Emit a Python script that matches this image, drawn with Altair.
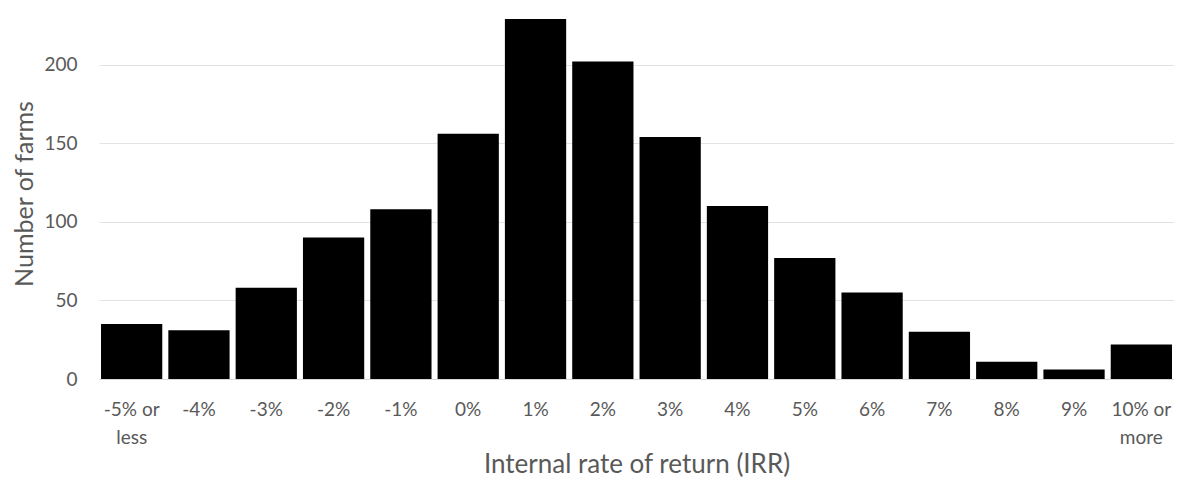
import altair as alt
import pandas as pd

categories = ["-5% or\nless", "-4%", "-3%", "-2%", "-1%", "0%", "1%", "2%", "3%",
              "4%", "5%", "6%", "7%", "8%", "9%", "10% or\nmore"]
farms = [35, 31, 58, 90, 108, 156, 229, 202, 154, 110, 77, 55, 30, 11, 6, 22]

df = pd.DataFrame({"irr": categories, "farms": farms})

FONT = "Lato"
GREY = "#595959"

chart = alt.Chart(df).mark_bar(color="black").encode(
    x=alt.X("irr:N", sort=categories,
            scale=alt.Scale(paddingInner=0.09, paddingOuter=0.03),
            axis=alt.Axis(title="Internal rate of return (IRR)", labelAngle=0,
                          labelExpr="split(datum.label, '\\n')",
                          labelLineHeight=28, labelFontSize=19, labelColor=GREY,
                          labelFont=FONT, labelPadding=21, ticks=False,
                          domainColor="#d9d9d9", domainWidth=1,
                          titleFont=FONT, titleFontSize=26, titleFontWeight="normal",
                          titleColor=GREY, titlePadding=4)),
    y=alt.Y("farms:Q", scale=alt.Scale(domain=[0, 236], nice=False),
            axis=alt.Axis(title="Number of farms", values=[0, 50, 100, 150, 200],
                          labelFontSize=19, labelColor=GREY, labelFont=FONT,
                          labelPadding=22, ticks=False, domain=False,
                          gridColor="#e3e3e3", gridWidth=1,
                          titleFont=FONT, titleFontSize=25, titleFontWeight="normal",
                          titleColor=GREY, titlePadding=6)),
).properties(
    width=1075, height=371,
    background="white",
    autosize=alt.AutoSizeParams(type="none"),
    padding={"left": 91, "top": 0, "right": 0, "bottom": 99},
).configure_view(strokeWidth=0)

chart.save("out.html", embed_options={"renderer": "svg", "actions": False})
